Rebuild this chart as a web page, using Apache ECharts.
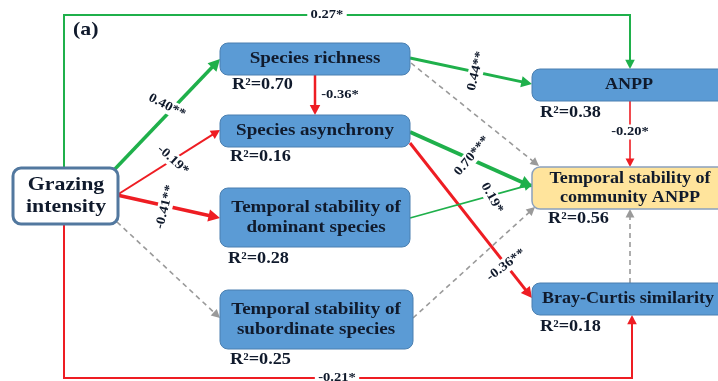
<!DOCTYPE html>
<html><head><meta charset="utf-8">
<script src="https://cdn.jsdelivr.net/npm/echarts@6/dist/echarts.min.js"></script>
<style>html,body{margin:0;padding:0;background:#fff}#c{width:718px;height:381px}</style>
</head><body><div id="c"></div><script>
// ---- data ----
const nodeNames = ['Grazing\nintensity', 'Species richness', 'Species asynchrony',
  'Temporal stability of\ndominant species', 'Temporal stability of\nsubordinate species',
  'ANPP', 'Temporal stability of\ncommunity ANPP', 'Bray-Curtis similarity'];
const r2Values = [null, 0.70, 0.16, 0.28, 0.25, 0.38, 0.56, 0.18];
const edgeFrom = [0, 0, 0, 0, 0, 0, 1, 1, 1, 2, 2, 3, 4, 5, 7];
const edgeTo   = [5, 7, 1, 2, 3, 4, 2, 5, 6, 6, 7, 6, 6, 6, 6];
const coefLabels = ['0.27*', '-0.21*', '0.40**', '-0.19*', '-0.41**', '', '-0.36*', '0.44**', '', '0.70***', '-0.36**', '0.19*', '', '-0.20*', ''];
const panelLabel = '(a)';

// ---- layout (pixel space of the diagram) ----
const boxRects = [[13,168,118,224],[220,43,410,75],[220,115,410,147],[220,188,410,247],
  [220,290,413,349],[532,69,728,101],[532,167,728,209],[532,283,728,315]];
const boxFill = ['#ffffff','#5b9bd5','#5b9bd5','#5b9bd5','#5b9bd5','#5b9bd5','#ffe49c','#5b9bd5'];
const boxStroke = ['#52789f','#4a7fb0','#4a7fb0','#4a7fb0','#4a7fb0','#4a7fb0','#8aa0bd','#4a7fb0'];
const boxLw = [3,1,1,1,1,1,1.5,1];
const boxFont = [19,17,17,17,17,16,16,16];
const boxScale = [1.15,1.12,1.12,1.12,1.12,1.13,1.13,1.13];
const boxCenterX = [66,315,315,316,316,629,630,628];
const r2Pos = [null,[232,85],[230,157],[228,259],[230,360],[540,113],[548,219],[540,327]];
const edgePaths = [
  [[64,168],[64,15],[630,15],[630,69]],
  [[64,224],[64,378],[632,378],[632,315]],
  [[114,170],[220,59]],
  [[117,195],[220,130]],
  [[117,195],[220,218]],
  [[117,222],[220,318]],
  [[315,75],[315,115]],
  [[410,58],[532,84]],
  [[411,63],[539,166]],
  [[410,132],[533,187]],
  [[410,143],[532,298]],
  [[410,218],[533,184]],
  [[413,318],[535,207]],
  [[630,101],[630,167]],
  [[630,283],[630,209]]
];
const edgeWidths = [2,2,3.5,2,3.5,1.6,2.5,3,1.6,4,3,1.8,1.6,1.6,1.6];
const labelPos = [[327,15],[337,378],[167,106],[173,160],[165,207],null,[340,95],[476,71],null,
  [472,156],[506,265],[492,198],null,[630,132],null];
const labelRot = [0,0,-27,-42,76,0,0,76,0,50,37,-61,0,0,0];

const GREEN = '#1fb04b', RED = '#ee1d23', GRAY = '#9a9a9a', INK = '#101a2c';
function edgeColor(i){ const l = coefLabels[i]; return l === '' ? GRAY : (l[0] === '-' ? RED : GREEN); }
const FONT = '"Liberation Serif","Times New Roman",serif';

function arrowItem(params, api){
  const i = params.dataIndex;
  const pts = edgePaths[i].map(p => api.coord(p));
  const n = pts.length, a = pts[n-2], b = pts[n-1];
  const dx = b[0]-a[0], dy = b[1]-a[1], L = Math.hypot(dx,dy), ux = dx/L, uy = dy/L;
  const w = edgeWidths[i];
  const hl = 6 + w*1.6, hw = 3 + w*0.9;
  const base = [b[0]-ux*hl, b[1]-uy*hl];
  const col = edgeColor(i);
  const dashed = coefLabels[i] === '';
  return {type:'group', children:[
    {type:'polyline', shape:{points: pts.slice(0,n-1).concat([[b[0]-ux*hl*0.6, b[1]-uy*hl*0.6]])},
     style:{stroke:col, lineWidth:w, fill:null, lineDash: dashed ? [5,4] : null}},
    {type:'polygon', shape:{points:[b,[base[0]-uy*hw, base[1]+ux*hw],[base[0]+uy*hw, base[1]-ux*hw]]},
     style:{fill:col}}
  ]};
}
function boxItem(params, api){
  const i = params.dataIndex, r = boxRects[i];
  const p0 = api.coord([r[0], r[1]]), p1 = api.coord([r[2], r[3]]);
  const c = api.coord([boxCenterX[i], (r[1]+r[3])/2]);
  const children = [
    {type:'rect', shape:{x:p0[0], y:p0[1], width:p1[0]-p0[0], height:p1[1]-p0[1], r:8},
     style:{fill:boxFill[i], stroke:boxStroke[i], lineWidth:boxLw[i]}},
    {type:'text', x:c[0], y:c[1], scaleX:boxScale[i],
     style:{text:nodeNames[i], fill:INK, font:'bold '+boxFont[i]+'px '+FONT, align:'center', verticalAlign:'middle', lineHeight: boxFont[i]+3}}
  ];
  if (r2Values[i] !== null) {
    const q = api.coord(r2Pos[i]);
    children.push({type:'text', x:q[0], y:q[1], scaleX:1.14, style:{text:'R²=' + r2Values[i].toFixed(2), fill:INK,
      font:'bold 16px '+FONT, align:'left', verticalAlign:'middle'}});
  }
  return {type:'group', children};
}
function labelItem(params, api){
  const i = params.dataIndex;
  if (!coefLabels[i]) return null;
  const q = api.coord(labelPos[i]);
  return {type:'text', x:q[0], y:q[1], rotation: labelRot[i]*Math.PI/180, scaleX:1.12,
    style:{text:coefLabels[i], fill:INK, font:'bold 13px '+FONT, align:'center', verticalAlign:'middle',
      backgroundColor:'#fff', padding:[1,3]}};
}
function panelItem(params, api){
  const q = api.coord([73,30]);
  return {type:'text', x:q[0], y:q[1], scaleX:1.15, style:{text:panelLabel, fill:INK, font:'bold 19px '+FONT, align:'left', verticalAlign:'middle'}};
}

const chart = echarts.init(document.getElementById('c'));
chart.setOption({
  animation:false,
  grid:{left:0, right:0, top:0, bottom:0},
  xAxis:{type:'value', min:0, max:718, show:false},
  yAxis:{type:'value', min:0, max:381, inverse:true, show:false},
  series:[
    {type:'custom', renderItem:arrowItem, data: edgeFrom.map((f,i)=>[edgePaths[i][0][0], edgePaths[i][0][1], f, edgeTo[i]]), z:1},
    {type:'custom', renderItem:boxItem, data: nodeNames.map((n,i)=>[boxRects[i][0], boxRects[i][1]]), z:2},
    {type:'custom', renderItem:labelItem, data: coefLabels.map((l,i)=>[edgePaths[i][0][0], edgePaths[i][0][1]]), z:3},
    {type:'custom', renderItem:panelItem, data:[[73,30]], z:3}
  ]
});
</script></body></html>
